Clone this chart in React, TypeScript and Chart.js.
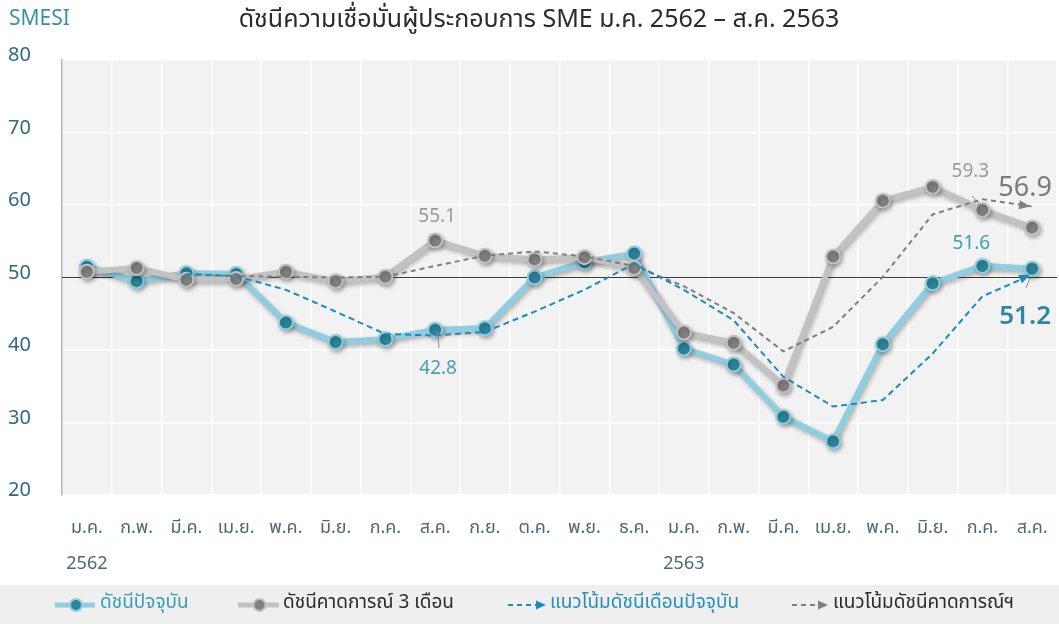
import React, { useEffect, useRef } from 'react';
import { Chart, registerables } from 'chart.js';

Chart.register(...registerables);

const FONT = '"Noto Sans Thai", "Noto Sans Thai UI", Tahoma, "Noto Sans", "DejaVu Sans", sans-serif';

const monthLabels = ['ม.ค.', 'ก.พ.', 'มี.ค.', 'เม.ย.', 'พ.ค.', 'มิ.ย.', 'ก.ค.', 'ส.ค.', 'ก.ย.', 'ต.ค.', 'พ.ย.', 'ธ.ค.', 'ม.ค.', 'ก.พ.', 'มี.ค.', 'เม.ย.', 'พ.ค.', 'มิ.ย.', 'ก.ค.', 'ส.ค.'];
const yearLabels = ['2562', '', '', '', '', '', '', '', '', '', '', '', '2563', '', '', '', '', '', '', ''];

const currentIndex = [51.5, 49.5, 50.6, 50.5, 43.8, 41.1, 41.5, 42.8, 43.0, 50.0, 52.1, 53.3, 40.2, 38.0, 30.8, 27.4, 40.8, 49.2, 51.6, 51.2];
const expectedIndex = [50.8, 51.3, 49.7, 49.8, 50.8, 49.5, 50.1, 55.1, 53.0, 52.5, 52.8, 51.3, 42.4, 41.0, 35.1, 52.9, 60.6, 62.5, 59.3, 56.9];
const currentTrend = [null, null, 50.5, 50.2, 48.3, 45.3, 42.2, 42.0, 42.5, 45.3, 48.3, 51.9, 48.3, 44.1, 36.3, 32.2, 33.1, 39.5, 47.4, 50.4];
const expectedTrend = [null, null, 50.4, 50.2, 50.1, 50.0, 50.1, 51.6, 53.0, 53.6, 52.9, 51.6, 48.8, 45.1, 39.8, 43.2, 50.1, 58.7, 60.8, 59.8];

const yTicks = [20, 30, 40, 50, 60, 70, 80];
const legendNames = ['ดัชนีปัจจุบัน', 'ดัชนีคาดการณ์ 3 เดือน', 'แนวโน้มดัชนีเดือนปัจจุบัน', 'แนวโน้มดัชนีคาดการณ์ฯ'];
const titleText = 'ดัชนีความเชื่อมั่นผู้ประกอบการ SME ม.ค. 2562 – ส.ค. 2563';
const brandText = 'SMESI';
const baselineValue = 50;

const TEAL_LINE = '#8fcde0';
const TEAL_PT = '#2e8499';
const GREY_LINE = '#c2c2c2';
const GREY_PT = '#808080';
const BLUE_DASH = '#1a8bc0';
const GREY_DASH = '#7f7f7f';

function arrow(ctx: CanvasRenderingContext2D, x0: number, y0: number, x1: number, y1: number, color: string, len = 11, half = 4.5) {
  const a = Math.atan2(y1 - y0, x1 - x0);
  ctx.save();
  ctx.fillStyle = color;
  ctx.beginPath();
  ctx.moveTo(x1, y1);
  ctx.lineTo(x1 - len * Math.cos(a) + half * Math.sin(a), y1 - len * Math.sin(a) - half * Math.cos(a));
  ctx.lineTo(x1 - len * Math.cos(a) - half * Math.sin(a), y1 - len * Math.sin(a) + half * Math.cos(a));
  ctx.closePath();
  ctx.fill();
  ctx.restore();
}

const decorPlugin = {
  id: 'decor',
  beforeDraw(chart: any) {
    const { ctx, chartArea: a } = chart;
    ctx.save();
    ctx.fillStyle = '#ffffff';
    ctx.fillRect(0, 0, chart.width, chart.height);
    ctx.fillStyle = '#f2f2f2';
    ctx.fillRect(a.left, a.top, a.right - a.left, a.bottom - a.top);
    ctx.restore();
  },
  beforeDatasetsDraw(chart: any) {
    const { ctx, chartArea: a, scales } = chart;
    const y = scales.y.getPixelForValue(baselineValue);
    ctx.save();
    ctx.strokeStyle = '#3a3a3a';
    ctx.lineWidth = 1.2;
    ctx.beginPath();
    ctx.moveTo(a.left, y);
    ctx.lineTo(a.right, y);
    ctx.stroke();
    ctx.restore();
  },
  beforeDatasetDraw(chart: any, args: any) {
    const ds = chart.data.datasets[args.index];
    if (ds.shadow) {
      const ctx = chart.ctx;
      ctx.save();
      ctx.shadowColor = 'rgba(0,0,0,0.28)';
      ctx.shadowBlur = 4;
      ctx.shadowOffsetX = 1.5;
      ctx.shadowOffsetY = 2.5;
    }
  },
  afterDatasetDraw(chart: any, args: any) {
    const ds = chart.data.datasets[args.index];
    if (ds.shadow) chart.ctx.restore();
    if (ds.arrowColor) {
      const pts = chart.getDatasetMeta(args.index).data;
      const n = pts.length;
      const p0 = pts[n - 2];
      const p1 = pts[n - 1];
      arrow(chart.ctx, p0.x, p0.y, p1.x - 2, p1.y, ds.arrowColor);
    }
  },
  afterDatasetsDraw(chart: any) {
    const { ctx } = chart;
    const cur = chart.getDatasetMeta(3).data;
    const exp = chart.getDatasetMeta(2).data;
    const text = (s: string, x: number, y: number, color: string, size: number, weight = 'normal') => {
      ctx.save();
      ctx.font = `${weight} ${size}px ${FONT}`;
      ctx.fillStyle = color;
      ctx.textAlign = 'center';
      ctx.textBaseline = 'middle';
      ctx.fillText(s, x, y);
      ctx.restore();
    };
    const leader = (x0: number, y0: number, x1: number, y1: number) => {
      ctx.save();
      ctx.strokeStyle = '#8a8a8a';
      ctx.lineWidth = 1;
      ctx.beginPath();
      ctx.moveTo(x0, y0);
      ctx.lineTo(x1, y1);
      ctx.stroke();
      ctx.restore();
    };
    // Aug 2562
    text(expectedIndex[7].toFixed(1), exp[7].x + 2, exp[7].y - 22, '#9a9a9a', 19);
    leader(cur[7].x + 2, cur[7].y + 2, cur[7].x + 4, cur[7].y + 18);
    text(currentIndex[7].toFixed(1), cur[7].x + 3, cur[7].y + 40, '#4a9fb6', 19);
    // Jul 2563
    text(expectedIndex[18].toFixed(1), exp[18].x - 12, exp[18].y - 37, '#9a9a9a', 19);
    leader(exp[18].x - 10, exp[18].y - 14, exp[18].x - 2, exp[18].y - 4);
    text(currentIndex[18].toFixed(1), cur[18].x - 11, cur[18].y - 21, '#3f9db6', 19);
    // Aug 2563
    text(expectedIndex[19].toFixed(1), exp[19].x - 7, exp[19].y - 37, '#7a7a7a', 27);
    leader(cur[19].x - 6, cur[19].y + 19, cur[19].x - 2, cur[19].y + 9);
    text(currentIndex[19].toFixed(1), cur[19].x - 7, cur[19].y + 50, '#2e86a0', 26, '600');
  },
  afterDraw(chart: any) {
    const { ctx } = chart;
    ctx.save();
    // brand + title
    ctx.textBaseline = 'middle';
    ctx.textAlign = 'left';
    ctx.fillStyle = '#3a90a8';
    ctx.font = `21px ${FONT}`;
    ctx.fillText(brandText, 9, 21);
    ctx.textAlign = 'center';
    ctx.fillStyle = '#2b2b2b';
    ctx.font = `25px ${FONT}`;
    ctx.fillText(titleText, 539, 22);

    // legend band
    ctx.fillStyle = '#efefef';
    ctx.fillRect(0, 585, chart.width, chart.height - 585);
    const ly = 605;
    const marker = (x0: number, x1: number, line: string, pt: string) => {
      ctx.strokeStyle = line;
      ctx.lineWidth = 5;
      ctx.beginPath();
      ctx.moveTo(x0, ly);
      ctx.lineTo(x1, ly);
      ctx.stroke();
      ctx.beginPath();
      ctx.arc((x0 + x1) / 2 + 1, ly, 6, 0, Math.PI * 2);
      ctx.fillStyle = pt;
      ctx.fill();
      ctx.lineWidth = 2;
      ctx.strokeStyle = line;
      ctx.stroke();
    };
    const dashed = (x0: number, x1: number, color: string) => {
      ctx.save();
      ctx.strokeStyle = color;
      ctx.lineWidth = 2;
      ctx.setLineDash([5, 4]);
      ctx.beginPath();
      ctx.moveTo(x0, ly);
      ctx.lineTo(x1 - 8, ly);
      ctx.stroke();
      ctx.restore();
      arrow(ctx, x0, ly, x1, ly, color, 10, 4.5);
    };
    marker(55, 95, TEAL_LINE, TEAL_PT);
    marker(238, 279, GREY_LINE, GREY_PT);
    dashed(508, 546, BLUE_DASH);
    dashed(792, 828, GREY_DASH);
    ctx.textAlign = 'left';
    ctx.textBaseline = 'middle';
    ctx.font = `19px ${FONT}`;
    ctx.fillStyle = '#3b9db8';
    ctx.fillText(legendNames[0], 100, 604);
    ctx.fillStyle = '#2b2b2b';
    ctx.fillText(legendNames[1], 283, 604);
    ctx.fillStyle = '#2590c0';
    ctx.fillText(legendNames[2], 550, 604);
    ctx.fillStyle = '#2b2b2b';
    ctx.fillText(legendNames[3], 833, 604);
    ctx.restore();
  },
};

export default function App() {
  const ref = useRef<HTMLCanvasElement>(null);
  useEffect(() => {
    document.body.style.margin = '0';
    const chart = new Chart(ref.current as HTMLCanvasElement, {
      type: 'line',
      data: {
        labels: monthLabels.map((m, i) => [m, yearLabels[i]]),
        datasets: [
          {
            label: legendNames[2],
            data: currentTrend,
            borderColor: BLUE_DASH,
            borderWidth: 2,
            borderDash: [6, 4],
            pointRadius: 0,
            tension: 0,
            fill: false,
            order: 0,
            arrowColor: BLUE_DASH,
          } as any,
          {
            label: legendNames[3],
            data: expectedTrend,
            borderColor: GREY_DASH,
            borderWidth: 2,
            borderDash: [5, 4],
            pointRadius: 0,
            tension: 0,
            fill: false,
            order: 1,
            arrowColor: GREY_DASH,
          } as any,
          {
            label: legendNames[1],
            data: expectedIndex,
            borderColor: GREY_LINE,
            borderWidth: 6,
            pointRadius: 7,
            pointBackgroundColor: GREY_PT,
            pointBorderColor: GREY_LINE,
            pointBorderWidth: 2,
            tension: 0,
            fill: false,
            order: 2,
            shadow: true,
          } as any,
          {
            label: legendNames[0],
            data: currentIndex,
            borderColor: TEAL_LINE,
            borderWidth: 6,
            pointRadius: 7,
            pointBackgroundColor: TEAL_PT,
            pointBorderColor: TEAL_LINE,
            pointBorderWidth: 2,
            tension: 0,
            fill: false,
            order: 3,
            shadow: true,
          } as any,
        ],
      },
      options: {
        animation: false,
        responsive: true,
        maintainAspectRatio: false,
        layout: { padding: { left: 8, right: 2, top: 60, bottom: 44 } },
        plugins: {
          legend: { display: false },
          title: { display: false },
          tooltip: { enabled: false },
        },
        scales: {
          x: {
            offset: true,
            afterFit: (s: any) => { s.height = 85; },
            grid: {
              offset: true,
              drawTicks: false,
              lineWidth: 1.5,
              color: (c: any) => (c.index === 0 ? 'rgba(0,0,0,0)' : '#ffffff'),
            },
            border: { display: false },
            ticks: {
              padding: 16,
              maxRotation: 0,
              autoSkip: false,
              color: '#4a6a7a',
              font: { family: FONT, size: 18, lineHeight: '36px' } as any,
            },
          },
          y: {
            min: 20,
            max: 80,
            afterFit: (s: any) => { s.width = 54; },
            afterBuildTicks: (s: any) => { s.ticks = yTicks.map((v) => ({ value: v })); },
            grid: { drawTicks: false, color: '#ffffff', lineWidth: 1.5 },
            border: { display: true, color: '#b8b8b8', width: 1.5 },
            ticks: {
              crossAlign: 'far',
              labelOffset: -3,
              color: '#2d6b7e',
              font: { family: FONT, size: 20 },
            },
          },
        },
      },
      plugins: [decorPlugin],
    });
    return () => chart.destroy();
  }, []);
  return (
    <div style={{ position: 'fixed', left: 0, top: 0, width: 1059, height: 624, overflow: 'hidden' }}>
      <div style={{ position: 'absolute', left: 0, top: 0, width: 1066, height: 624 }}>
        <canvas ref={ref} />
      </div>
    </div>
  );
}
